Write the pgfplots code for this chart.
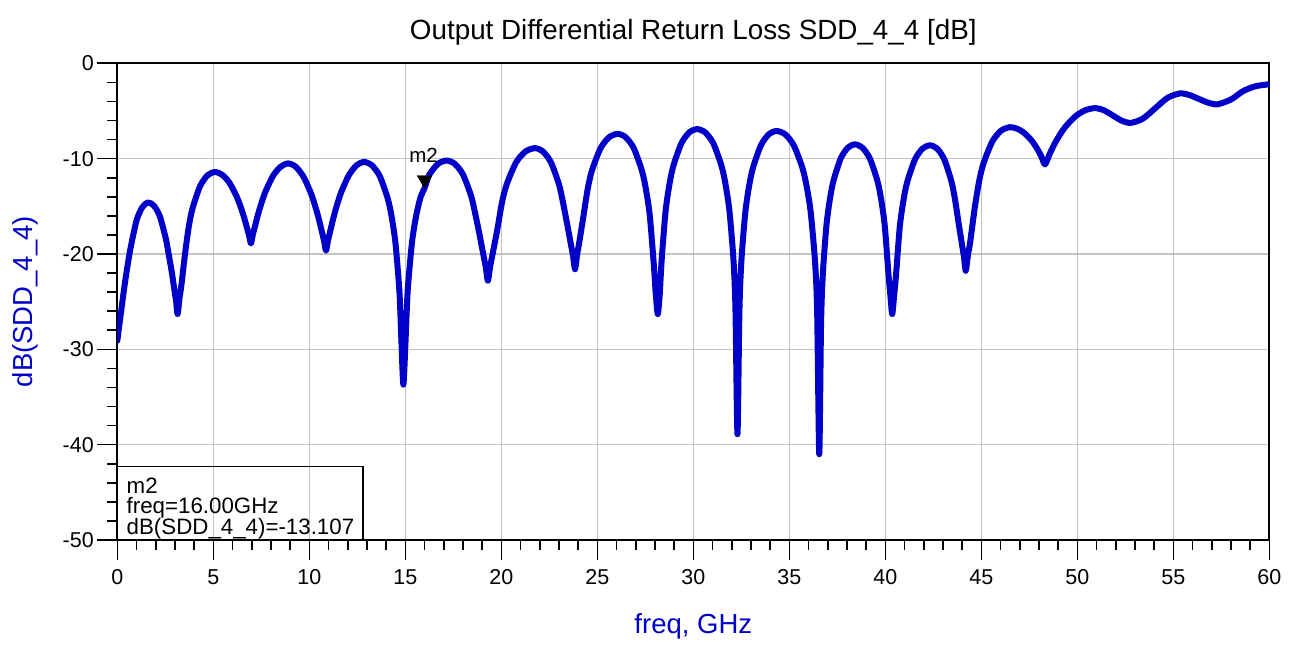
\documentclass[border=0pt]{standalone}
\usepackage{fontspec}
\setmainfont{Liberation Sans}
\usepackage{pgfplots}
\pgfplotsset{compat=1.18}
\usetikzlibrary{calc}
\definecolor{adsblue}{RGB}{0,0,200}
\definecolor{gridgray}{RGB}{195,195,195}
\begin{document}
\begin{tikzpicture}
\begin{axis}[
  scale only axis, width=1152pt, height=476.7pt,
  xmin=0, xmax=60, ymin=-50, ymax=0,
  xtick={0,5,10,15,20,25,30,35,40,45,50,55,60},
  xticklabels={0,5,10,15,20,25,30,35,40,45,50,55,60},
  ytick={-50,-40,-30,-20,-10,0},
  yticklabels={-50,-40,-30,-20,-10,0},
  minor x tick num=4, minor y tick num=4,
  tick align=outside, xtick pos=bottom, ytick pos=left,
  major tick length=20pt, minor tick length=10pt,
  every tick/.style={black, line width=1.6pt},
  grid=major, major grid style={gridgray, line width=1.6pt},
  axis line style={black, line width=1.8pt},
  tick label style={font=\fontsize{21.5}{24}\selectfont},
  xticklabel style={yshift=-6pt},
  /pgf/number format/assume math mode=true,
  title={Output Differential Return Loss SDD\_4\_4 [dB]},
  title style={font=\fontsize{27.8}{30}\selectfont, at={(axis description cs:0.5,1)}, anchor=south, inner sep=0pt, yshift=12pt},
  xlabel={freq, GHz},
  xlabel style={font=\fontsize{27.5}{30}\selectfont, text=adsblue, at={(axis description cs:0.5,-0.182)}, anchor=center},
  ylabel={dB(SDD\_4\_4)},
  ylabel style={font=\fontsize{27.5}{30}\selectfont, text=adsblue, at={(axis description cs:-0.08,0.5)}, anchor=center},
]
\coordinate (sw) at (rel axis cs:0,0);
\coordinate (ne) at (rel axis cs:1,1);
\addplot[adsblue, line width=6pt, line join=round, line cap=round, smooth, tension=0.45] coordinates {
(0,-29.1) (0.2,-26) (0.4,-23) (0.66,-19.7) (1.0,-16.5) (1.3,-15.1) (1.61,-14.6)
(1.916,-14.95) (2.222,-16.09) (2.528,-18.4) (2.681,-20.1) (2.834,-21.85) (2.987,-23.96) (3.064,-25.0) (3.14,-26.3)
(3.2375,-24.66) (3.335,-23.32) (3.53,-19.95) (3.725,-17.1) (3.92,-15.2) (4.31,-12.89) (4.70,-11.75) (5.09,-11.4)
(5.464,-11.7) (5.838,-12.52) (6.212,-13.95) (6.399,-14.92) (6.586,-16.05) (6.773,-17.4) (6.866,-18.08) (6.96,-18.9)
(7.057,-17.98) (7.154,-17.22) (7.348,-15.71) (7.542,-14.45) (7.736,-13.36) (8.124,-11.76) (8.512,-10.84) (8.9,-10.5)
(9.294,-10.85) (9.688,-11.87) (10.082,-13.61) (10.279,-14.8) (10.476,-16.17) (10.673,-17.82) (10.771,-18.65) (10.87,-19.65)
(10.969,-18.63) (11.068,-17.79) (11.266,-16.12) (11.464,-14.72) (11.662,-13.51) (12.058,-11.75) (12.454,-10.70) (12.85,-10.35)
(13.26,-10.70) (13.67,-11.84) (14.08,-14.15) (14.285,-16.05) (14.49,-18.9) (14.695,-24.0) (14.798,-29.25) (14.9,-33.7)
(15.013,-29.1) (15.125,-23.85) (15.35,-18.75) (15.575,-15.9) (15.8,-14.0) (16.0,-13.107) (16.25,-11.69) (16.70,-10.55) (17.15,-10.2)
(17.58,-10.55) (18.01,-11.69) (18.44,-14.0) (18.655,-15.9) (18.87,-18.01) (19.085,-20.28) (19.193,-21.41) (19.3,-22.8)
(19.423,-21.27) (19.545,-20.02) (19.79,-17.45) (20.035,-14.6) (20.28,-12.7) (20.77,-10.39) (21.26,-9.25) (21.75,-8.9)
(22.168,-9.25) (22.586,-10.39) (23.004,-12.7) (23.213,-14.6) (23.422,-16.77) (23.631,-19.06) (23.736,-20.2) (23.84,-21.6)
(23.951,-20.04) (24.062,-18.76) (24.284,-15.95) (24.506,-13.1) (24.728,-11.2) (25.172,-8.89) (25.616,-7.75) (26.06,-7.4)
(26.478,-7.75) (26.896,-8.89) (27.314,-11.2) (27.523,-13.1) (27.732,-15.95) (27.941,-21.05) (28.046,-24.2) (28.15,-26.3)
(28.253,-24.17) (28.355,-20.55) (28.56,-15.45) (28.765,-12.6) (28.97,-10.7) (29.38,-8.39) (29.79,-7.25) (30.2,-6.9)
(30.62,-7.25) (31.04,-8.39) (31.46,-10.7) (31.67,-12.6) (31.88,-15.45) (32.09,-20.55) (32.195,-25.8) (32.3,-38.9)
(32.402,-26.0) (32.504,-20.75) (32.708,-15.65) (32.912,-12.8) (33.116,-10.9) (33.524,-8.59) (33.932,-7.45) (34.34,-7.1)
(34.784,-7.45) (35.228,-8.59) (35.672,-10.9) (35.894,-12.8) (36.116,-15.65) (36.338,-20.75) (36.449,-26.0) (36.56,-41.0)
(36.653,-27.4) (36.746,-22.15) (36.932,-17.05) (37.118,-14.2) (37.304,-12.3) (37.676,-9.99) (38.048,-8.85) (38.42,-8.5)
(38.808,-8.85) (39.196,-9.99) (39.584,-12.3) (39.778,-14.2) (39.972,-17.05) (40.166,-22.15) (40.263,-24.34) (40.36,-26.3)
(40.459,-24.35) (40.557,-22.25) (40.754,-17.15) (40.951,-14.3) (41.148,-12.4) (41.542,-10.09) (41.936,-8.95) (42.33,-8.6)
(42.702,-8.95) (43.074,-10.09) (43.446,-12.4) (43.632,-14.3) (43.818,-16.76) (44.004,-19.13) (44.097,-20.31) (44.19,-21.76)
(44.306,-20.1) (44.421,-18.75) (44.652,-15.25) (44.883,-12.4) (45.114,-10.5) (45.576,-8.19) (46.038,-7.05) (46.5,-6.7)
(46.864,-6.86) (47.228,-7.29) (47.592,-8.03) (47.774,-8.53) (47.956,-9.12) (48.138,-9.82) (48.32,-10.6)
(48.58,-9.42) (48.84,-8.36) (49.10,-7.47) (49.36,-6.71) (49.88,-5.59) (50.40,-4.94) (50.92,-4.7)
(51.385,-4.93) (51.85,-5.475) (52.315,-6.02) (52.78,-6.25)
(53.42,-5.8) (54.065,-4.7) (54.71,-3.61) (55.35,-3.16)
(55.84,-3.33) (56.325,-3.73) (56.81,-4.13) (57.3,-4.3)
(58.0,-3.8) (58.65,-2.9) (59.3,-2.4) (60,-2.2)
};
\addplot[only marks, black, mark=triangle*, mark size=8.5pt, mark options={yshift=8.5pt, rotate=180}] coordinates {(16,-13.107)};
\node[font=\fontsize{20.5}{22}\selectfont, inner sep=0pt] at (axis cs:15.95,-13.107) [yshift=33pt] {m2};
\draw[black, line width=1.3pt] (axis cs:0,-50) rectangle (axis cs:12.8,-42.3);
\node[anchor=base west, inner sep=0pt, font=\fontsize{22.3}{24}\selectfont] at (axis cs:0.48,-45.1) {m2};
\node[anchor=base west, inner sep=0pt, font=\fontsize{22.3}{24}\selectfont] at (axis cs:0.48,-47.2) {freq=16.00GHz};
\node[anchor=base west, inner sep=0pt, font=\fontsize{22.3}{24}\selectfont] at (axis cs:0.48,-49.45) {dB(SDD\_4\_4)=-13.107};
\end{axis}
\pgfresetboundingbox
\path[use as bounding box] ($(sw)+(-117.3pt,-104pt)$) rectangle ($(ne)+(22.7pt,63.3pt)$);
\end{tikzpicture}
\end{document}
